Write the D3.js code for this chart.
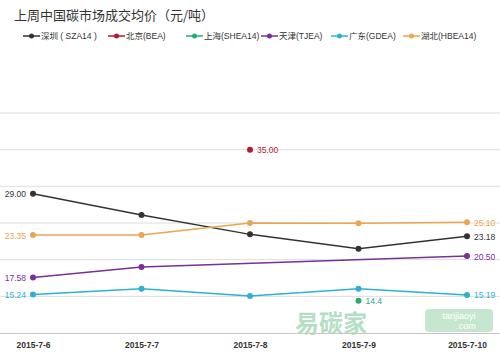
<!DOCTYPE html>
<html><head><meta charset="utf-8">
<script src="https://cdn.jsdelivr.net/npm/d3@7"></script>
<style>body{margin:0;background:#fff;}svg{display:block;font-family:"Liberation Sans","Noto Sans CJK SC",sans-serif;}</style>
</head><body><svg id="c" width="500" height="358"></svg>
<script>
const dates = ["2015-7-6","2015-7-7","2015-7-8","2015-7-9","2015-7-10"];
const seriesNames = ["深圳 ( SZA14 )","北京(BEA)","上海(SHEA14)","天津(TJEA)","广东(GDEA)","湖北(HBEA14)"];
const seriesColors = ["#333333","#b51a2e","#2aa876","#7a2f9a","#2fb0d2","#eba551"];
const shenzhen = [29.00, 26.10, 23.45, 21.50, 23.18];
const beijing  = [null, null, 35.00, null, null];
const shanghai = [null, null, null, 14.4, null];
const tianjin  = [17.58, 19.00, null, null, 20.50];
const guangdong= [15.24, 16.05, 15.05, 16.05, 15.19];
const hubei    = [23.35, 23.35, 25.00, 24.95, 25.10];
const yTicks = [10,15,20,25,30,35,40];
const title = "上周中国碳市场成交均价（元/吨）";

const allSeries = [shenzhen, beijing, shanghai, tianjin, guangdong, hubei];
const svg = d3.select("#c");
const x = d3.scalePoint().domain(dates).range([33, 467]);
const y = d3.scaleLinear().domain([10, 40]).range([333, 113]);

// title
svg.append("text").attr("x", 14).attr("y", 20).attr("font-size", 13).attr("fill", "#333")
  .attr("font-family", "Noto Sans CJK SC, sans-serif").text(title);

// legend
const legX = [23, 108, 186, 261, 331, 403];
seriesNames.forEach((n, i) => {
  const g = svg.append("g").attr("transform", `translate(${legX[i]},36)`);
  g.append("line").attr("x1", 0).attr("x2", 17).attr("y1", 0).attr("y2", 0).attr("stroke", seriesColors[i]).attr("stroke-width", 1.5);
  g.append("circle").attr("cx", 8.5).attr("cy", 0).attr("r", 2.5).attr("fill", seriesColors[i]);
  g.append("text").attr("x", 18).attr("y", 3.3).attr("font-size", 8.5).attr("fill", "#333").text(n);
});

// grid
svg.append("g").selectAll("line").data(yTicks.slice(1)).join("line")
  .attr("x1", 0).attr("x2", 500).attr("y1", d => y(d)).attr("y2", d => y(d))
  .attr("stroke", "#dcdcdc").attr("stroke-width", 1);

// watermark
const wm = svg.append("g").attr("opacity", 0.5);
wm.append("text").attr("x", 295).attr("y", 332).attr("font-size", 24).attr("font-weight", "bold")
  .attr("font-family", "Noto Sans CJK SC, sans-serif").attr("fill", "#6cc08a").text("易碳家");
wm.append("rect").attr("x", 425).attr("y", 309).attr("width", 68).attr("height", 23).attr("rx", 4).attr("fill", "#8fd0a0");
wm.append("text").attr("x", 459).attr("y", 319).attr("text-anchor", "middle").attr("font-size", 9).attr("fill", "#fff").text("tanjiaoyi");
wm.append("text").attr("x", 466).attr("y", 329).attr("text-anchor", "middle").attr("font-size", 9).attr("fill", "#fff").text(".com");

// x axis
const xAxis = svg.append("g").attr("transform", `translate(0,${y(10)})`)
  .call(d3.axisBottom(x).tickSize(0).tickPadding(9));
xAxis.select(".domain").attr("stroke", "#c8c8c8").attr("d", "M0,0.5H500");
xAxis.selectAll("text").attr("font-size", 8.5).attr("font-weight", "bold").attr("fill", "#333")
  .attr("font-family", "Liberation Sans, Arial, sans-serif");

// lines
allSeries.forEach((s, i) => {
  const pts = s.map((v, j) => ({d: dates[j], v})).filter(p => p.v !== null);
  const line = d3.line().x(p => x(p.d)).y(p => y(p.v));
  if (pts.length > 1) svg.append("path").attr("d", line(pts)).attr("fill", "none")
    .attr("stroke", seriesColors[i]).attr("stroke-width", 1.5);
  svg.append("g").selectAll("circle").data(pts).join("circle")
    .attr("cx", p => x(p.d)).attr("cy", p => y(p.v)).attr("r", 3).attr("fill", seriesColors[i]);
});

// labels
function lab(i, j, txt, side) {
  const v = allSeries[i][j];
  svg.append("text").attr("x", x(dates[j]) + (side === "l" ? -7 : 7)).attr("y", y(v) + 3.5)
    .attr("text-anchor", side === "l" ? "end" : "start").attr("font-size", 8.5)
    .attr("font-family", "Liberation Sans, Arial, sans-serif").attr("fill", seriesColors[i]).text(txt);
}
lab(0, 0, shenzhen[0].toFixed(2), "l");
lab(5, 0, hubei[0].toFixed(2), "l");
lab(3, 0, tianjin[0].toFixed(2), "l");
lab(4, 0, guangdong[0].toFixed(2), "l");
lab(0, 4, shenzhen[4].toFixed(2), "r");
lab(5, 4, hubei[4].toFixed(2), "r");
lab(3, 4, tianjin[4].toFixed(2), "r");
lab(4, 4, guangdong[4].toFixed(2), "r");
lab(1, 2, beijing[2].toFixed(2), "r");
lab(2, 3, String(shanghai[3]), "r");
</script></body></html>
